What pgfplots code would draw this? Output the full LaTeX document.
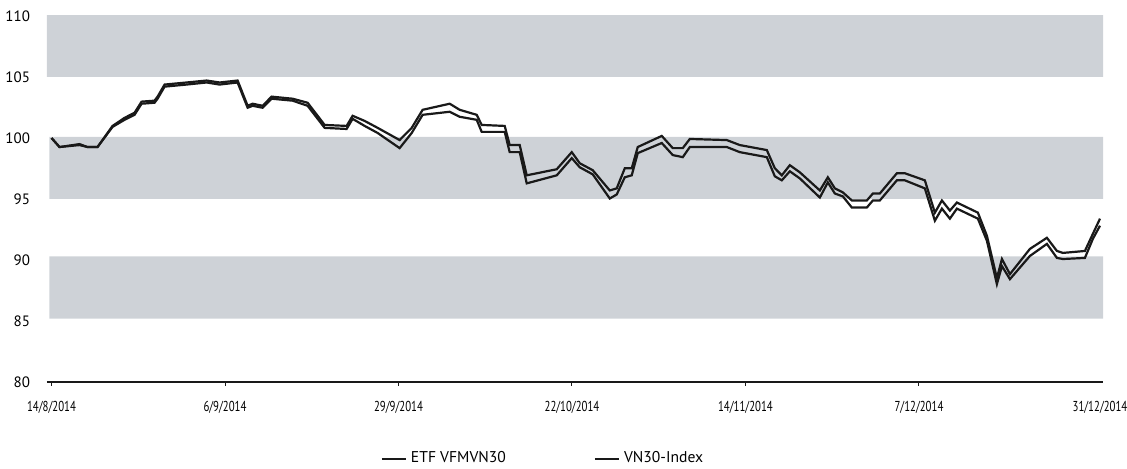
\documentclass[border=0pt]{standalone}
\usepackage{fontspec}
\setmainfont{PT Sans}
\newfontfamily\condfont[FakeStretch=0.75]{PT Sans}
\usepackage{pgfplots}
\pgfplotsset{compat=1.18}
\usepackage{pgfplotstable}
\definecolor{band}{RGB}{206,210,215}
\definecolor{ln}{RGB}{25,25,25}
\pgfplotstableread{
d up lo
0 100.00 100.00
1.06 99.26 99.26
3.71 99.50 99.42
4.77 99.26 99.26
6.10 99.26 99.26
8.09 100.99 100.91
9.68 101.65 101.49
11.01 102.07 101.90
11.94 102.98 102.81
13.66 103.06 102.89
14.06 103.39 103.22
14.99 104.38 104.21
17.90 104.55 104.38
20.56 104.71 104.55
22.28 104.55 104.38
24.67 104.71 104.55
26.00 102.64 102.48
26.66 102.81 102.64
27.98 102.64 102.48
29.18 103.39 103.22
31.96 103.22 103.06
33.95 102.89 102.64
36.21 101.07 100.83
39.12 100.99 100.74
39.92 101.82 101.57
41.51 101.40 100.99
43.24 100.83 100.41
46.15 99.83 99.17
47.75 100.83 100.41
49.20 102.31 101.90
52.79 102.81 102.15
54.11 102.31 101.74
56.37 101.90 101.49
57.03 101.07 100.50
60.08 100.99 100.50
60.74 99.42 98.84
62.07 99.42 98.84
63.00 96.94 96.28
66.98 97.44 96.94
68.97 98.84 98.35
70.03 97.93 97.60
71.75 97.36 97.02
74.01 95.70 95.04
74.93 95.87 95.37
76.00 97.52 96.78
76.92 97.52 96.94
77.72 99.26 98.76
80.90 100.17 99.59
82.36 99.17 98.60
83.69 99.17 98.43
84.62 99.92 99.26
89.52 99.83 99.26
91.25 99.42 98.84
94.83 99.01 98.43
95.89 97.52 96.86
96.82 96.94 96.53
97.88 97.77 97.27
99.20 97.19 96.69
101.86 95.70 95.12
102.92 96.78 96.36
103.85 95.87 95.45
104.91 95.54 95.21
106.10 94.88 94.30
108.09 94.88 94.30
108.89 95.45 94.88
109.81 95.45 94.88
112.07 97.11 96.53
113.13 97.11 96.53
115.78 96.53 95.87
117.11 93.88 93.22
118.04 94.88 94.21
119.10 94.05 93.39
120.03 94.71 94.21
122.81 93.88 93.39
124.01 91.98 91.57
125.33 88.51 88.02
126.00 90.08 89.50
127.06 88.84 88.43
129.71 90.91 90.33
131.96 91.82 91.32
133.29 90.74 90.17
134.08 90.58 90.08
137.00 90.74 90.17
138.06 92.15 91.74
139.00 93.39 92.81
}\data
\begin{document}
\begin{tikzpicture}
\path[use as bounding box] (-23.5pt,-43.5pt) rectangle (540pt,191pt);
\begin{axis}[at={(0,0)}, anchor=south west, scale only axis,
  width=528pt, height=183pt,
  xmin=-0.6, xmax=139.4, ymin=80, ymax=110,
  axis x line*=bottom, axis y line*=left,
  y axis line style={draw=none},
  x axis line style={line width=0.75pt, ln},
  ytick={80,85,...,110}, ytick style={draw=none},
  xtick={0,23,46,69,92,115},
  xticklabels={14/8/2014,6/9/2014,29/9/2014,22/10/2014,14/11/2014,7/12/2014},
  extra x ticks={139}, extra x tick labels={31/12/2014},
  extra x tick style={tick style={draw=none}},
  xtick style={line width=0.5pt, ln}, tick align=outside, major tick length=2pt,
  xticklabel style={font=\condfont\fontsize{7.2}{8}\selectfont, yshift=-4pt},
  yticklabel style={font=\fontsize{7.5}{8}\selectfont, xshift=-3pt},
  /pgf/number format/assume math mode=true,
  legend columns=2,
  legend style={draw=none, fill=none, at={(0.4706,-0.21)}, anchor=center,
    font=\fontsize{7.8}{9}\selectfont,
    /tikz/every even column/.append style={column sep=42pt}},
  legend image code/.code={\draw[#1] (0pt,0pt) -- (12pt,0pt);},
]
\addplot[draw=none, fill=band, forget plot] coordinates {(-0.6,105) (139.4,105) (139.4,110.2) (-0.6,110.2) (-0.6,105)};
\addplot[draw=none, fill=band, forget plot] coordinates {(-0.3,95) (139.4,95) (139.4,100.1) (-0.3,100.1) (-0.3,95)};
\addplot[draw=none, fill=band, forget plot] coordinates {(-0.3,85.2) (139.4,85.2) (139.4,90.3) (-0.3,90.3) (-0.3,85.2)};
\addplot[ln, line width=1.1pt] table[x=d, y=lo]{\data};
\addlegendentry{ETF VFMVN30}
\addplot[ln, line width=1.1pt] table[x=d, y=up]{\data};
\addlegendentry{VN30-Index}
\end{axis}
\end{tikzpicture}
\end{document}
